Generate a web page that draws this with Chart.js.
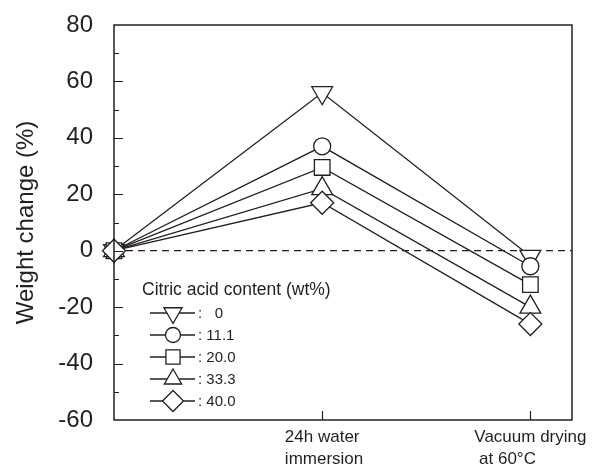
<!DOCTYPE html>
<html>
<head>
<meta charset="utf-8">
<script src="https://cdn.jsdelivr.net/npm/chart.js@4.4.1/dist/chart.umd.min.js"></script>
<style>
  html, body { margin:0; padding:0; background:#fff; }
  #wrap { width:595px; height:470px; }
</style>
</head>
<body>
<div id="wrap"><canvas id="chart" width="595" height="470"></canvas></div>
<script>
// data
const stages = [0, 1, 2];
const stageLabels = [[], ["24h water", "immersion"], ["Vacuum drying", " at 60°C"]];
const contents = ["  0", "11.1", "20.0", "33.3", "40.0"];
const wc0 = [0, 56, -2];
const wc11 = [0, 37, -5.5];
const wc20 = [0, 29.5, -12];
const wc33 = [0, 22, -20];
const wc40 = [0, 17, -26];
const yMajor = [-40, -20, 0, 20, 40, 60];
const yMinor = [-50, -30, -10, 10, 30, 50, 70];
const xMajor = [1, 2];

const FONT = "'Liberation Sans', Arial, Helvetica, sans-serif";
const INK = "#231f20";

// marker looks: down triangle, circle, square, up triangle, diamond
const markers = [
  { pointStyle:"triangle", rotation:180, radius:12, legendRadius:10.5 },
  { pointStyle:"circle",   rotation:0,   radius:8.5, legendRadius:7.5 },
  { pointStyle:"rect",     rotation:0,   radius:11, legendRadius:10 },
  { pointStyle:"triangle", rotation:0,   radius:12, legendRadius:10 },
  { pointStyle:"rectRot",  rotation:0,   radius:11.5, legendRadius:10.5 },
];

const series = [wc0, wc11, wc20, wc33, wc40];

const datasets = series.map((vals, i) => ({
  label: contents[i],
  data: stages.map((s, j) => ({ x: s, y: vals[j] })),
  borderColor: INK,
  borderWidth: 1.3,
  backgroundColor: "#fff",
  pointStyle: markers[i].pointStyle,
  rotation: markers[i].rotation,
  pointRadius: markers[i].radius,
  pointBorderWidth: 1.3,
  pointBackgroundColor: "#fff",
  pointBorderColor: INK,
  tension: 0,
  clip: false,
  order: 10 - i,
}));

// dashed zero line, bottom of the stack
datasets.push({
  label: "zero",
  data: [{ x: 0, y: 0 }, { x: 2.2, y: 0 }],
  borderColor: INK,
  borderWidth: 1.3,
  borderDash: [7, 5],
  pointRadius: 0,
  clip: false,
  order: 20,
});

function drawMarker(ctx, m, r, x, y){
  ctx.save();
  ctx.fillStyle = "#fff";
  ctx.strokeStyle = INK;
  ctx.lineWidth = 1.3;
  if (Chart.helpers && Chart.helpers.drawPoint) {
    Chart.helpers.drawPoint(ctx, { pointStyle:m.pointStyle, rotation:m.rotation, radius:r, borderWidth:1.3 }, x, y);
  } else {
    ctx.beginPath(); ctx.arc(x, y, r, 0, Math.PI*2); ctx.fill(); ctx.stroke();
  }
  ctx.restore();
}

const framePlugin = {
  id: "frame",
  afterDraw(chart){
    const { ctx, chartArea: a, scales: { x, y } } = chart;
    ctx.save();
    ctx.strokeStyle = INK;
    ctx.lineWidth = 1.5;
    ctx.strokeRect(a.left, a.top, a.right - a.left, a.bottom - a.top);

    // inward ticks
    ctx.lineWidth = 1.2;
    ctx.beginPath();
    yMajor.forEach(v => { const p = Math.round(y.getPixelForValue(v)) + 0.5; ctx.moveTo(a.left, p); ctx.lineTo(a.left + 9, p); });
    yMinor.forEach(v => { const p = Math.round(y.getPixelForValue(v)) + 0.5; ctx.moveTo(a.left, p); ctx.lineTo(a.left + 5, p); });
    xMajor.forEach(v => { const p = Math.round(x.getPixelForValue(v)) + 0.5; ctx.moveTo(p, a.bottom); ctx.lineTo(p, a.bottom - 9); });
    ctx.stroke();

    // x category labels, left aligned under a centred first line
    ctx.fillStyle = INK;
    ctx.font = "17px " + FONT;
    ctx.textAlign = "left";
    ctx.textBaseline = "alphabetic";
    xMajor.forEach(v => {
      const lines = stageLabels[v];
      const px = x.getPixelForValue(v);
      const x0 = px - ctx.measureText(lines[0]).width / 2;
      lines.forEach((t, k) => ctx.fillText(t, x0, a.bottom + 22 + k * 22));
    });

    // legend
    ctx.font = "17.5px " + FONT;
    ctx.fillText("Citric acid content (wt%)", 142, 295);
    ctx.font = "15px " + FONT;
    const rowY = [313, 335, 357, 379, 401];
    contents.forEach((c, i) => {
      const ry = rowY[i];
      ctx.beginPath();
      ctx.lineWidth = 1.3;
      ctx.moveTo(150, ry); ctx.lineTo(195, ry);
      ctx.stroke();
      drawMarker(ctx, markers[i], markers[i].legendRadius, 173, ry);
      ctx.fillStyle = INK;
      ctx.fillText(": " + c, 198, ry + 5);
    });
    ctx.restore();
  }
};

new Chart(document.getElementById("chart"), {
  type: "line",
  data: { datasets },
  options: {
    responsive: false,
    animation: false,
    devicePixelRatio: 1,
    layout: { padding: { left: 4, right: 23, top: 25, bottom: 50 } },
    plugins: { legend: { display: false }, tooltip: { enabled: false } },
    scales: {
      x: {
        type: "linear", min: 0, max: 2.2,
        ticks: { display: false },
        grid: { display: false, drawTicks: false },
        border: { display: false },
      },
      y: {
        min: -60, max: 80,
        afterFit(scale){ scale.width = 110; scale.paddingTop = 0; scale.paddingBottom = 0; },
        ticks: { stepSize: 20, padding: 21, color: INK, font: { family: FONT, size: 24 } },
        grid: { display: false, drawTicks: false },
        border: { display: false },
        title: { display: true, text: "Weight change (%)", color: INK, font: { family: FONT, size: 24 }, padding: { top: 8, bottom: 0 } },
      },
    },
  },
  plugins: [framePlugin],
});
</script>
</body>
</html>
